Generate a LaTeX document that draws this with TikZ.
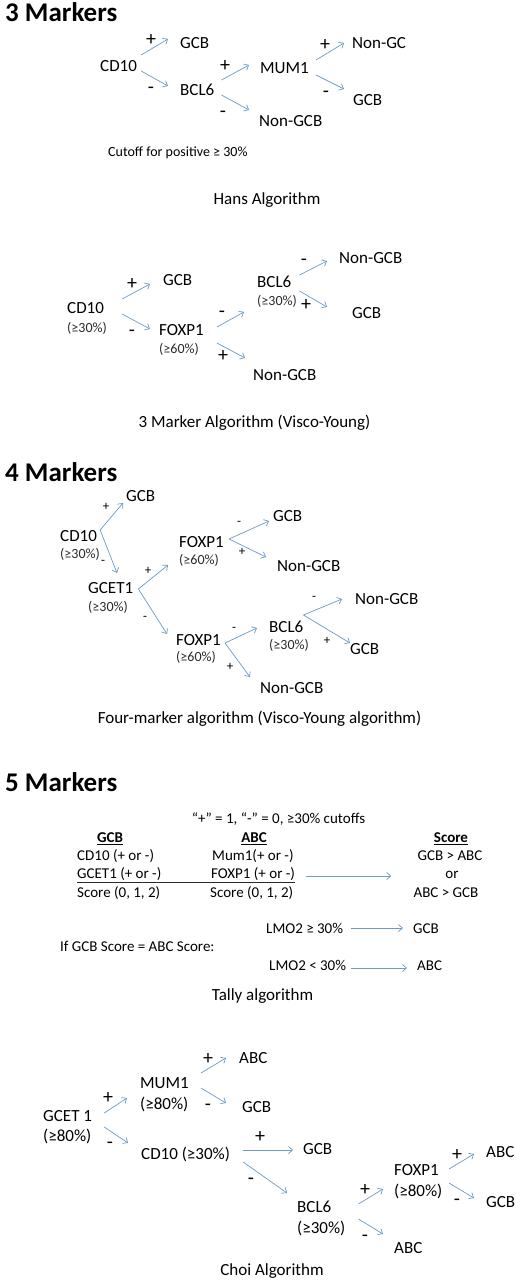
\documentclass[tikz,border=0pt]{standalone}
\usepackage{fontspec}
\setmainfont{Carlito}
\usepackage{xcolor}
\usetikzlibrary{arrows.meta}
\definecolor{arrowblue}{HTML}{6A9BCB}
\definecolor{textgray}{HTML}{2B2B2B}

\tikzset{
  lbl/.style={font=\fontsize{17}{20}\selectfont, inner sep=0pt, text height=10.8pt, text depth=0pt, anchor=west},
  pct/.style={font=\fontsize{14}{16}\selectfont, text=textgray, inner sep=0pt, text height=8.9pt, text depth=0pt, anchor=west},
  sgn/.style={font=\fontsize{20}{22}\selectfont, inner sep=0pt, text height=6.2pt, text depth=0pt},
  sgnsmall/.style={font=\fontsize{13}{15}\selectfont, inner sep=0pt, text height=4.1pt, text depth=0pt},
  sectitle/.style={font=\bfseries\fontsize{27}{30}\selectfont, inner sep=0pt, text height=17pt, text depth=0pt, anchor=west},
  algname/.style={font=\fontsize{17}{20}\selectfont, inner sep=0pt, text height=10.8pt, text depth=0pt},
  tly/.style={font=\fontsize{15}{18}\selectfont, inner sep=0pt, text height=9.5pt, text depth=0pt, anchor=west},
  tlyc/.style={tly, anchor=center},
  arr/.style={draw=arrowblue, line width=0.7pt, -{Straight Barb[length=4pt,width=7pt]}},
}

\begin{document}
\begin{tikzpicture}[x=1pt, y=-1pt]
  \useasboundingbox[fill=white] (0,0) rectangle (515,1280);

  % 3 markers: Hans
  \node[sectitle] (t3) at (5,13) {3 Markers};
  \node[lbl] (cdA) at (100,66) {CD10};
  \node[lbl] (gcbA1) at (180,43) {GCB};
  \node[lbl] (bclA) at (180,90) {BCL6};
  \node[lbl] (mumA) at (260,68) {MUM1};
  \node[lbl] (ngcA) at (352,43) {Non-GC};
  \node[lbl] (gcbA2) at (353,100) {GCB};
  \node[lbl] (ngcbA) at (259,121) {Non-GCB};
  \draw[arr] ([shift={(4,-11)}]cdA.east) -- ([shift={(-12,-4)}]gcbA1.west);
  \draw[arr] ([shift={(4,5)}]cdA.east) -- ([shift={(-12,-4)}]bclA.west);
  \draw[arr] ([shift={(7,-10)}]bclA.east) -- ([shift={(-11,-3)}]mumA.west);
  \draw[arr] ([shift={(7,5)}]bclA.east) -- ([shift={(-10,-11)}]ngcbA.west);
  \draw[arr] ([shift={(7,-8)}]mumA.east) -- ([shift={(-8,0)}]ngcA.west);
  \draw[arr] ([shift={(7,7)}]mumA.east) -- ([shift={(-9,-11)}]gcbA2.west);
  \node[sgn] at (151,42) {+};
  \node[sgn] at (151,90) {-};
  \node[sgn] at (225,68) {+};
  \node[sgn] at (223,114) {-};
  \node[sgn] at (325,47) {+};
  \node[sgn] at (326,94) {-};
  \node[pct, text=black] (cutA) at (108,152) {Cutoff for positive ≥ 30\%};
  \node[algname] (hans) at (267,199) {Hans Algorithm};

  % 3 markers: Visco-Young
  \node[lbl] (cdB) at (67,308) {CD10};
  \node[pct] (pcB1) at (67,328) {(≥30\%)};
  \node[lbl] (gcbB1) at (163,280) {GCB};
  \node[lbl] (foxB) at (159,330) {FOXP1};
  \node[pct] (pcB2) at (159,349) {(≥60\%)};
  \node[lbl] (bclB) at (257,282) {BCL6};
  \node[pct] (pcB3) at (257,301) {(≥30\%)};
  \node[lbl] (ngcbB1) at (339,258) {Non-GCB};
  \node[lbl] (gcbB2) at (352,313) {GCB};
  \node[lbl] (ngcbB2) at (253,375) {Non-GCB};
  \draw[arr] ([shift={(18,-9)}]cdB.east) -- ([shift={(-13,4)}]gcbB1.west);
  \draw[arr] ([shift={(18,6)}]cdB.east) -- ([shift={(-9,-1)}]foxB.west);
  \draw[arr] ([shift={(13,-3)}]foxB.east) -- ([shift={(-13,30)}]bclB.west);
  \draw[arr] ([shift={(13,13)}]foxB.east) -- ([shift={(-8,-17)}]ngcbB2.west);
  \draw[arr] ([shift={(8,-7)}]bclB.east) -- ([shift={(-12,3)}]ngcbB1.west);
  \draw[arr] ([shift={(8,9)}]bclB.east) -- ([shift={(-25,-6)}]gcbB2.west);
  \node[sgn] at (132,286) {+};
  \node[sgn] at (132,333) {-};
  \node[sgn] at (222,314) {-};
  \node[sgn] at (223,358) {+};
  \node[sgn] at (304,262) {-};
  \node[sgn] at (306,307) {+};
  \node[algname] (visco) at (254.5,422) {3 Marker Algorithm (Visco-Young)};

  % 4 markers
  \node[sectitle] (t4) at (5,473) {4 Markers};
  \node[lbl] (gcbC1) at (126,496) {GCB};
  \node[lbl] (cdC) at (60,536) {CD10};
  \node[pct] (pcC1) at (60,554) {(≥30\%)};
  \node[lbl] (gcetC) at (88,588) {GCET1};
  \node[pct] (pcC2) at (88,607) {(≥30\%)};
  \node[lbl] (foxC1) at (179,542) {FOXP1};
  \node[pct] (pcC3) at (179,560) {(≥60\%)};
  \node[lbl] (gcbC2) at (273,516) {GCB};
  \node[lbl] (ngcbC1) at (277,566) {Non-GCB};
  \node[lbl] (foxC2) at (176,640) {FOXP1};
  \node[pct] (pcC4) at (176,657) {(≥60\%)};
  \node[lbl] (bclC) at (269,627) {BCL6};
  \node[pct] (pcC5) at (269,645) {(≥30\%)};
  \node[lbl] (ngcbC2) at (355,599) {Non-GCB};
  \node[lbl] (gcbC3) at (350,649) {GCB};
  \node[lbl] (ngcbC3) at (260,688) {Non-GCB};
  \coordinate (cdCv) at ([shift={(3,-6)}]cdC.east);
  \coordinate (gcetCv) at ([shift={(5,1)}]gcetC.east);
  \coordinate (foxC1v) at ([shift={(5,-3)}]foxC1.east);
  \coordinate (foxC2v) at ([shift={(4,3)}]foxC2.east);
  \coordinate (bclCv) at ([shift={(0,-12)}]bclC.east);
  \draw[arr] (cdCv) -- ([shift={(-3,7)}]gcbC1.west);
  \draw[arr] (cdCv) -- ([shift={(29,-15)}]gcetC.west);
  \draw[arr] (gcetCv) -- ([shift={(-11,23)}]foxC1.west);
  \draw[arr] (gcetCv) -- ([shift={(-9,-6)}]foxC2.west);
  \draw[arr] (foxC1v) -- ([shift={(-4,5)}]gcbC2.west);
  \draw[arr] (foxC1v) -- ([shift={(-11,-9)}]ngcbC1.west);
  \draw[arr] (foxC2v) -- ([shift={(-12,1)}]bclC.west);
  \draw[arr] (foxC2v) -- ([shift={(-10,-11)}]ngcbC3.west);
  \draw[arr] (bclCv) -- ([shift={(-13,0)}]ngcbC2.west);
  \draw[arr] (bclCv) -- ([shift={(0,-6)}]gcbC3.west);
  \node[sgnsmall] at (106,508) {+};
  \node[sgnsmall] at (103,562) {-};
  \node[sgnsmall] at (148,572) {+};
  \node[sgnsmall] at (145,618) {-};
  \node[sgnsmall] at (239,523) {-};
  \node[sgnsmall] at (242,553) {+};
  \node[sgnsmall] at (234,629) {-};
  \node[sgnsmall] at (230,668) {+};
  \node[sgnsmall] at (314,598) {-};
  \node[sgnsmall] at (327,642) {+};
  \node[algname] (four) at (259.5,718) {Four-marker algorithm (Visco-Young algorithm)};

  % 5 markers: Tally
  \node[sectitle] (t5) at (5,783) {5 Markers};
  \node[tlyc] (rule) at (278.5,819) {“+” = 1, “-” = 0, ≥30\% cutoffs};
  \node[tlyc] (hGCB) at (110,838) {\textbf{\underline{GCB}}};
  \node[tlyc] (hABC) at (254,838) {\textbf{\underline{ABC}}};
  \node[tlyc] (hScore) at (451,838) {\textbf{\underline{Score}}};
  \node[tly] (cdT) at (77,856) {CD10 (+ or -)};
  \node[tly] (mumT) at (212,856) {Mum1(+ or -)};
  \node[tlyc] (gtaT) at (450,856) {GCB > ABC};
  \node[tly] (gcetT) at (77,874) {GCET1 (+ or -)};
  \node[tly] (foxT) at (211,874) {FOXP1 (+ or -)};
  \node[tlyc] (orT) at (452,874) {or};
  \node[tly] (scT1) at (77,893) {Score (0, 1, 2)};
  \node[tly] (scT2) at (210,893) {Score (0, 1, 2)};
  \node[tlyc] (atgT) at (446,893) {ABC > GCB};
  \draw[textgray, line width=0.7pt] ([shift={(0,3)}]gcetT.south west) -- ([shift={(0,3)}]foxT.south east);
  \draw[arr] ([shift={(11,2)}]foxT.east) -- ([shift={(-54,2)}]orT.west);
  \node[tly] (lmoA) at (266,929) {LMO2 ≥ 30\%};
  \node[tly] (gcbT) at (413,929) {GCB};
  \node[tly] (ifT) at (60,947) {If GCB Score = ABC Score:};
  \node[tly] (lmoB) at (269,966) {LMO2 < 30\%};
  \node[tly] (abcT) at (417,966) {ABC};
  \draw[arr] ([shift={(8,-1)}]lmoA.east) -- ([shift={(-10,-1)}]gcbT.west);
  \draw[arr] ([shift={(5,2)}]lmoB.east) -- ([shift={(-10,2)}]abcT.west);
  \node[algname] (tally) at (262.5,995) {Tally algorithm};

  % 5 markers: Choi
  \node[lbl] (gcetE) at (43,1116) {GCET 1};
  \node[lbl] (pcE1) at (43,1136) {(≥80\%)};
  \node[lbl] (mumE) at (140,1083) {MUM1};
  \node[lbl] (pcE2) at (140,1104) {(≥80\%)};
  \node[lbl] (abcE1) at (239,1058) {ABC};
  \node[lbl] (gcbE1) at (242,1107) {GCB};
  \node[lbl] (cdE) at (141,1154) {CD10 (≥30\%)};
  \node[lbl] (gcbE2) at (303,1149) {GCB};
  \node[lbl] (bclE) at (297,1207) {BCL6};
  \node[lbl] (pcE3) at (297,1228) {(≥30\%)};
  \node[lbl] (foxE) at (394,1170) {FOXP1};
  \node[lbl] (pcE4) at (394,1191) {(≥80\%)};
  \node[lbl] (abcE2) at (486,1152) {ABC};
  \node[lbl] (gcbE3) at (486,1202) {GCB};
  \node[lbl] (abcE3) at (394,1248) {ABC};
  \draw[arr] ([shift={(12,-3)}]gcetE.east) -- ([shift={(-13,15)}]mumE.west);
  \draw[arr] ([shift={(12,11)}]gcetE.east) -- ([shift={(-13,-11)}]cdE.west);
  \draw[arr] ([shift={(12,-10)}]mumE.east) -- ([shift={(-13,0)}]abcE1.west);
  \draw[arr] ([shift={(12,5)}]mumE.east) -- ([shift={(-16,-4)}]gcbE1.west);
  \draw[arr] ([shift={(13,-4)}]cdE.east) -- ([shift={(-10,1)}]gcbE2.west);
  \draw[arr] ([shift={(13,8)}]cdE.east) -- ([shift={(-10,-14)}]bclE.west);
  \draw[arr] ([shift={(27,-3)}]bclE.east) -- ([shift={(-11,19)}]foxE.west);
  \draw[arr] ([shift={(27,12)}]bclE.east) -- ([shift={(-11,-14)}]abcE3.west);
  \draw[arr] ([shift={(10,-1)}]foxE.east) -- ([shift={(-12,2)}]abcE2.west);
  \draw[arr] ([shift={(10,13)}]foxE.east) -- ([shift={(-12,-4)}]gcbE3.west);
  \node[sgn] at (108,1100) {+};
  \node[sgn] at (110,1145) {-};
  \node[sgn] at (208,1061) {+};
  \node[sgn] at (208,1107) {-};
  \node[sgn] at (260,1139) {+};
  \node[sgn] at (251,1181) {-};
  \node[sgn] at (365,1192) {+};
  \node[sgn] at (365,1238) {-};
  \node[sgn] at (457,1157) {+};
  \node[sgn] at (457,1202) {-};
  \node[algname] (choi) at (272,1270) {Choi Algorithm};
\end{tikzpicture}
\end{document}
